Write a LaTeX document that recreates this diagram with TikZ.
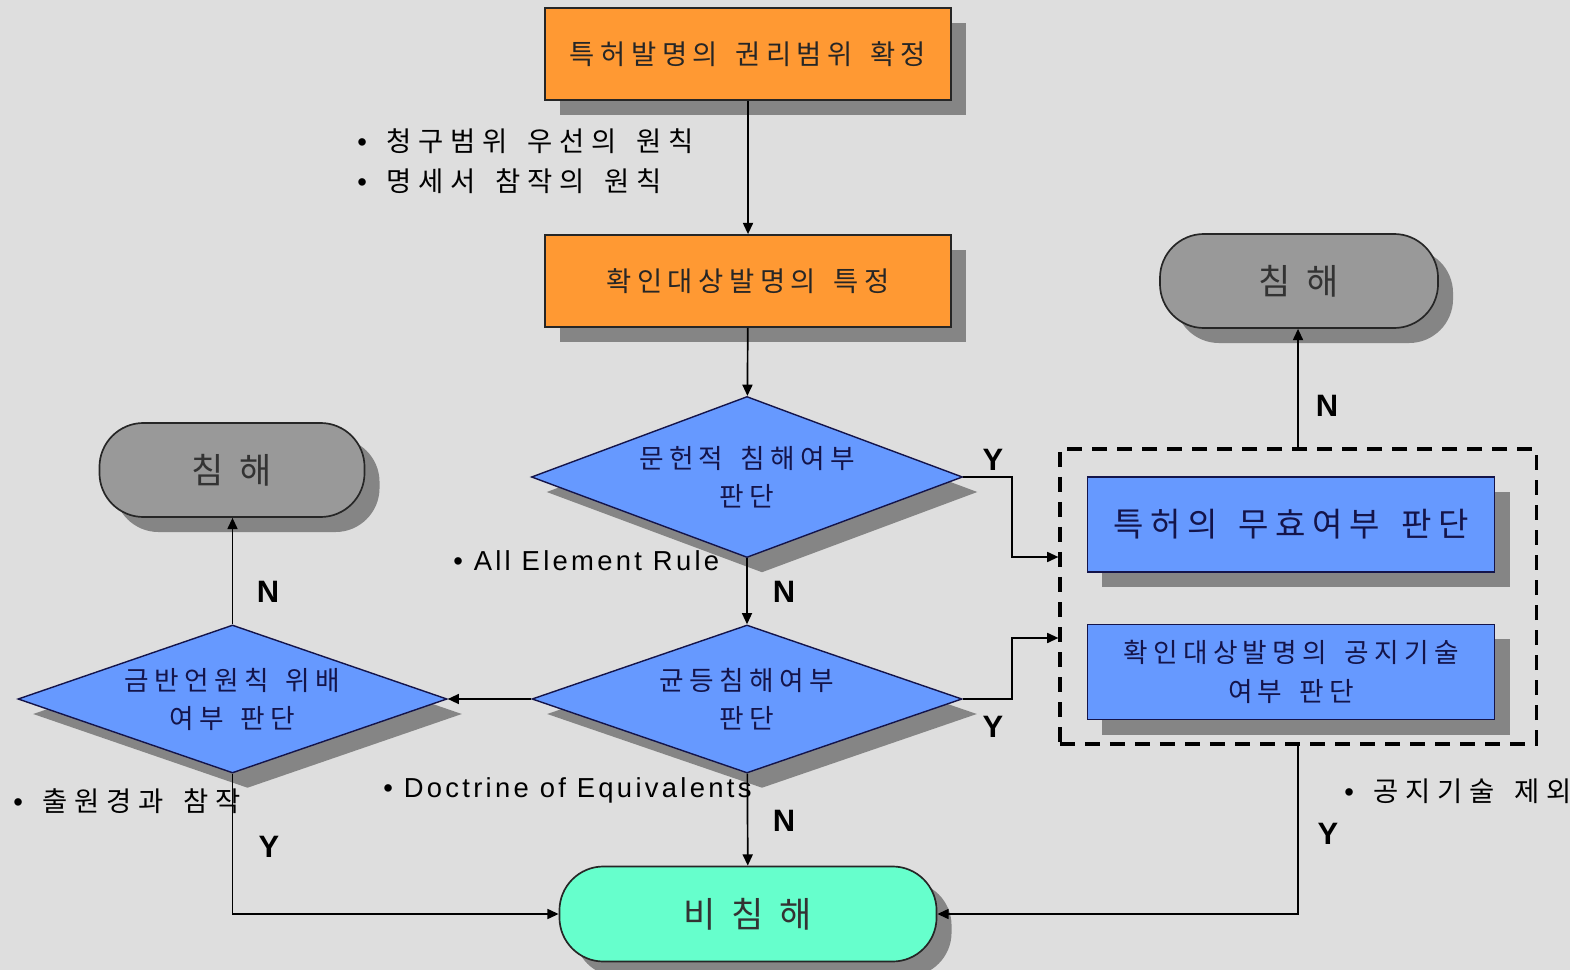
\documentclass[tikz,border=0pt]{standalone}
\usepackage{fontspec}
\setmainfont{Liberation Sans}
\newfontfamily\kr[LetterSpace=20,WordSpace=1.5]{Noto Sans CJK KR}
\newfontfamily\kra[LetterSpace=25,WordSpace=1.5]{Noto Sans CJK KR}
\newfontfamily\krt[WordSpace=2]{Noto Sans CJK KR}
\newfontfamily\lat[LetterSpace=12]{Liberation Sans}
\usetikzlibrary{shapes.geometric,shadows,arrows.meta}
\definecolor{bg}{HTML}{DEDEDE}
\definecolor{orng}{HTML}{FF9933}
\definecolor{blu}{HTML}{6699FF}
\definecolor{gry}{HTML}{999999}
\definecolor{aqua}{HTML}{66FFCC}
\definecolor{shd}{HTML}{858585}
\definecolor{navy}{HTML}{14144A}
\tikzset{
 shad/.style={drop shadow={shadow xshift=0.375cm,shadow yshift=-0.375cm,fill=shd,opacity=1}},
 obox/.style={rectangle,draw=black!85,line width=1.2pt,fill=orng,shad,minimum width=10.15cm,minimum height=2.3cm,font=\kr\fontsize{19.5}{27}\selectfont,text=black!85},
 bbox/.style={rectangle,draw=navy,line width=1.2pt,fill=blu,shad,minimum width=10.175cm,minimum height=2.375cm,text=navy,align=center},
 dec/.style={diamond,draw=navy,line width=1pt,fill=blu,shad,aspect=2.7,inner sep=0pt,text=navy,align=center,font=\kr\fontsize{19}{27}\selectfont},
 term/.style={rectangle,rounded corners=1.1cm,draw=black!85,line width=1.2pt,shad,minimum height=2.35cm,font=\krt\fontsize{25}{28}\selectfont,text=black!80},
 arr/.style={line width=1.2pt,-{Triangle[length=0.28cm,width=0.25cm]}},
 yn/.style={font=\bfseries\fontsize{22}{26}\selectfont},
 ann/.style={anchor=west,inner sep=0pt,font=\kra\fontsize{19.5}{24}\selectfont},
 anl/.style={anchor=west,inner sep=0pt,font=\lat\fontsize{19.5}{24}\selectfont},
 grp/.style={draw=black,line width=2.2pt,dash pattern=on 0.375cm off 0.25cm,minimum width=11.9cm,minimum height=7.375cm},
}
\begin{document}
\begin{tikzpicture}[x=0.025cm,y=-0.025cm]
\fill[bg] (0,0) rectangle (1570,970);
\useasboundingbox (0,0) rectangle (1570,970);

% nodes
\node[obox] (o1) at (748,54) {특허발명의 권리범위 확정};
\node[obox] (o2) at (748,281) {확인대상발명의 특정};
\node[dec,minimum width=10.775cm,minimum height=4.025cm] (d1) at (747,477) {문헌적 침해여부\\판단};
\node[dec,minimum width=10.75cm,minimum height=3.7cm] (d2) at (747,699) {균등침해여부\\판단};
\node[dec,minimum width=10.725cm,minimum height=3.7cm] (d3) at (232.5,699) {금반언원칙 위배\\여부 판단};
\node[term,fill=gry,minimum width=6.625cm] (tl) at (232,470) {침 해};
\node[term,fill=gry,minimum width=6.95cm] (tr) at (1299,281) {침 해};
\node[term,fill=aqua,minimum width=9.425cm,minimum height=2.375cm] (nc) at (748,914) {비 침 해};
\node[grp] (grp) at (1298,596.5) {};
\node[bbox,font=\kr\fontsize{23.5}{28}\selectfont] (b1) at (1291,524.5) {특허의 무효여부 판단};
\node[bbox,font=\kr\fontsize{19}{28}\selectfont] (b2) at (1291,672) {확인대상발명의 공지기술\\여부 판단};

\coordinate (j1) at (1012,557);
\coordinate (j2) at (1012,638);

% connectors
\draw[arr] (o1) -- (o2);
\draw[arr] (o2) -- (d1);
\draw[arr] (d1) -- (d2);
\draw[arr] (d2) -- (nc);
\draw[arr] (d2.west) -- (d3.east);
\draw[arr] (d3.north) -- (d3.north |- tl.south);
\draw[arr] (d3.south) |- (nc.west);
\draw[arr] (grp.north) -- (grp.north |- tr.south);
\draw[arr] (grp.south) |- (nc.east);
\draw[arr] (d1.east) -| (j1) -- (j1 -| grp.west);
\draw[arr] (d2.east) -| (j2) -- (j2 -| grp.west);

% Y / N labels
\node[yn] (y1) at (993,460) {Y};
\node[yn] (y2) at (993,727) {Y};
\node[yn] (n1) at (784,592) {N};
\node[yn] (n2) at (784,821) {N};
\node[yn] (n3) at (268,592) {N};
\node[yn] (y3) at (269,847) {Y};
\node[yn] (n4) at (1327,406) {N};
\node[yn] (y4) at (1328,834) {Y};

% annotations
\node[ann] (a1) at (357,141) {{\lat •} 청구범위 우선의 원칙};
\node[ann] (a2) at (357,181) {{\lat •} 명세서 참작의 원칙};
\node[anl] (a3) at (453,561) {• All Element Rule};
\node[anl] (a4) at (383,790) {• Doctrine of Equivalents};
\node[ann] (a5) at (13,801) {{\lat •} 출원경과 참작};
\node[ann] (a6) at (1344,791) {{\lat •} 공지기술 제외};
\end{tikzpicture}
\end{document}
